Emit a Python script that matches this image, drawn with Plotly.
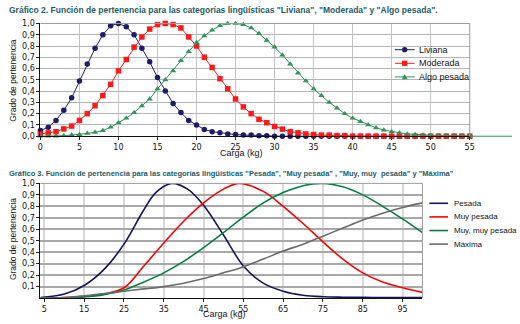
import plotly.graph_objects as go

# ---- Gráfico 2: membership functions sampled at integer loads (kg) ----
carga_g2 = list(range(0, 56))
liviana = [0.05, 0.08, 0.14, 0.23, 0.34, 0.49, 0.64, 0.78, 0.90, 0.98,
           1.00, 0.97, 0.90, 0.78, 0.66, 0.52, 0.40, 0.29, 0.21, 0.14,
           0.10, 0.06, 0.04, 0.03, 0.02, 0.015, 0.01, 0.01, 0.005, 0.005,
           0.0, 0.0, 0.0, 0.0, 0.0, 0.0, 0.0, 0.0, 0.0, 0.0,
           0.0, 0.0, 0.0, 0.0, 0.0, 0.0, 0.0, 0.0, 0.0, 0.0,
           0.0, 0.0, 0.0, 0.0, 0.0, 0.0]
moderada = [0.02, 0.03, 0.04, 0.065, 0.09, 0.14, 0.20, 0.27, 0.36, 0.46,
            0.58, 0.68, 0.79, 0.88, 0.95, 0.99, 1.00, 0.99, 0.96, 0.88,
            0.80, 0.70, 0.61, 0.51, 0.42, 0.33, 0.26, 0.20, 0.15, 0.12,
            0.086, 0.063, 0.04, 0.03, 0.02, 0.015, 0.01, 0.01, 0.005, 0.005,
            0.0, 0.0, 0.0, 0.0, 0.0, 0.0, 0.0, 0.0, 0.0, 0.0,
            0.0, 0.0, 0.0, 0.0, 0.0, 0.0]
algo_pesada = [0.0, 0.0, 0.0, 0.005, 0.01, 0.015, 0.025, 0.035, 0.05, 0.08,
               0.12, 0.16, 0.21, 0.27, 0.33, 0.42, 0.50, 0.58, 0.67, 0.75,
               0.83, 0.89, 0.94, 0.98, 1.00, 1.00, 0.99, 0.96, 0.91, 0.85,
               0.79, 0.72, 0.64, 0.56, 0.49, 0.42, 0.36, 0.30, 0.25, 0.20,
               0.16, 0.13, 0.10, 0.075, 0.055, 0.04, 0.03, 0.02, 0.015, 0.01,
               0.008, 0.005, 0.004, 0.003, 0.002, 0.001]
ticks_g2_x = [0, 5, 10, 15, 20, 25, 30, 35, 40, 45, 50, 55]
ticks_g2_y = [0.0, 0.1, 0.2, 0.3, 0.4, 0.5, 0.6, 0.7, 0.8, 0.9, 1.0]

# ---- Gráfico 3: smooth membership curves ----
carga_pesada = [4, 10, 15, 20, 25, 30, 33, 37, 41, 45, 50, 55, 60, 65, 70,
                75, 80, 85, 90, 95, 100]
pesada = [0.005, 0.035, 0.11, 0.25, 0.47, 0.77, 0.92, 1.00, 0.95, 0.81,
          0.55, 0.28, 0.13, 0.06, 0.025, 0.012, 0.008, 0.006, 0.005, 0.005, 0.005]
carga_g3 = [4, 10, 15, 20, 25, 30, 35, 40, 45, 50, 54, 60, 65, 70, 75,
            80, 85, 90, 95, 100]
muy_pesada = [0.0, 0.005, 0.015, 0.035, 0.09, 0.28, 0.48, 0.67, 0.83, 0.95,
              1.00, 0.93, 0.80, 0.65, 0.49, 0.34, 0.22, 0.14, 0.09, 0.05]
muy_muy_pesada = [0.0, 0.002, 0.01, 0.03, 0.07, 0.14, 0.22, 0.32, 0.44, 0.57,
                  0.68, 0.83, 0.92, 0.98, 1.00, 0.97, 0.90, 0.80, 0.69, 0.57]
maxima = [0.0, 0.005, 0.02, 0.04, 0.06, 0.08, 0.10, 0.13, 0.17, 0.22,
          0.26, 0.34, 0.41, 0.47, 0.54, 0.61, 0.68, 0.74, 0.79, 0.83]
ticks_g3_x = [5, 15, 25, 35, 45, 55, 65, 75, 85, 95]
ticks_g3_y = [0.1, 0.2, 0.3, 0.4, 0.5, 0.6, 0.7, 0.8, 0.9, 1.0]

W, H = 520, 324
TICK_FONT = dict(family="DejaVu Sans, Verdana, sans-serif", size=8, color="#111111")
LABEL_FONT = dict(family="Liberation Sans, Arial, sans-serif", size=9, color="#111111")
TITLE_COLOR = "#1b5c66"


def px(x):
    return x / W


def py(y):
    return 1 - y / H


fig = go.Figure()

NAVY, RED, GREEN = "#1c1c6b", "#ff1a1a", "#2e9457"
g2_series = [
    ("Liviana", liviana, NAVY, "circle"),
    ("Moderada", moderada, RED, "square"),
    ("Algo pesada", algo_pesada, GREEN, "triangle-up"),
]
for name, ys, color, symbol in g2_series:
    fig.add_trace(go.Scatter(
        x=carga_g2, y=ys, name=name, mode="lines+markers",
        line=dict(color=color, width=1),
        marker=dict(color=color, symbol=symbol, size=5.5, line=dict(width=0)),
        cliponaxis=False, xaxis="x", yaxis="y", showlegend=False,
    ))

g3_series = [
    ("Pesada", carga_pesada, pesada, "#14145a"),
    ("Muy pesada", carga_g3, muy_pesada, "#ff0000"),
    ("Muy, muy pesada", carga_g3, muy_muy_pesada, "#008040"),
    ("Máxima", carga_g3, maxima, "#6a6a6a"),
]
for name, xs, ys, color in g3_series:
    fig.add_trace(go.Scatter(
        x=xs, y=ys, name=name, mode="lines",
        line=dict(color=color, width=1.6, shape="spline", smoothing=1.0),
        xaxis="x2", yaxis="y2", showlegend=False,
    ))

fig.update_layout(
    width=W, height=H,
    margin=dict(l=0, r=0, t=0, b=0),
    paper_bgcolor="white", plot_bgcolor="white",
    separators=",.",
    showlegend=False,
    xaxis=dict(
        domain=[px(38), px(474)], range=[0, 55],
        tickvals=ticks_g2_x, ticks="outside", ticklen=3, tickcolor="#222",
        tickfont=TICK_FONT, showgrid=True, gridcolor="#c4c4c4", gridwidth=1,
        showline=True, linecolor="#111", linewidth=1,
        zeroline=False, fixedrange=True,
    ),
    yaxis=dict(
        domain=[py(136), py(20)], range=[0, 1],
        tickvals=ticks_g2_y, tickformat=".1f", ticks="outside", ticklen=3,
        tickcolor="#222", tickfont=TICK_FONT, showgrid=True,
        gridcolor="#b4b4b4", gridwidth=1, showline=True, linecolor="#111",
        linewidth=1, zeroline=False, fixedrange=True,
    ),
    xaxis2=dict(
        domain=[px(38), px(426)], range=[4, 100], anchor="y2",
        tickvals=ticks_g3_x, ticks="outside", ticklen=3, tickcolor="#222",
        tickfont=TICK_FONT, showgrid=True, gridcolor="#d9d9d9", gridwidth=2,
        showline=True, linecolor="#111", linewidth=1,
        zeroline=False, fixedrange=True,
    ),
    yaxis2=dict(
        domain=[py(302.5), py(184.5)], range=[0, 1], anchor="x2",
        tickvals=ticks_g3_y, tickformat=".1f", ticks="outside", ticklen=3,
        tickcolor="#222", tickfont=TICK_FONT, showgrid=True,
        gridcolor="#a8a8a8", gridwidth=1.5, showline=True, linecolor="#111",
        linewidth=1, zeroline=False, fixedrange=True,
    ),
)

shapes = []
# plot-area borders (top and right) in light grey
for (xl, xr), (yt, yb) in [((38, 474), (20, 136)), ((38, 426), (184.5, 302.5))]:
    shapes.append(dict(type="line", x0=px(xl), x1=px(xr), y0=py(yt), y1=py(yt),
                       line=dict(color="#9a9a9a", width=1)))
    shapes.append(dict(type="line", x0=px(xr), x1=px(xr), y0=py(yb), y1=py(yt),
                       line=dict(color="#9a9a9a", width=1)))

# green axis extension past the last category of Gráfico 2
shapes.append(dict(type="line", x0=px(474), x1=px(517), y0=py(136), y1=py(136),
                   line=dict(color=GREEN, width=1)))

# legend panel of Gráfico 2 (white box over the gridlines)
shapes.append(dict(type="rect", x0=px(392), x1=px(469), y0=py(84), y1=py(37),
                   fillcolor="white", line=dict(width=0), layer="between"))

annotations = []
# legend entries of Gráfico 2: line sample with its marker
for i, (name, _, color, symbol) in enumerate(g2_series):
    yc = 47 + i * 14
    shapes.append(dict(type="line", x0=px(398), x1=px(418), y0=py(yc), y1=py(yc),
                       line=dict(color=color, width=1)))
    r = 2.7
    if symbol == "circle":
        shapes.append(dict(type="circle", x0=px(408 - r), x1=px(408 + r),
                           y0=py(yc + r), y1=py(yc - r), fillcolor=color,
                           line=dict(width=0)))
    elif symbol == "square":
        shapes.append(dict(type="rect", x0=px(408 - r), x1=px(408 + r),
                           y0=py(yc + r), y1=py(yc - r), fillcolor=color,
                           line=dict(width=0)))
    else:
        path = "M {:.5f} {:.5f} L {:.5f} {:.5f} L {:.5f} {:.5f} Z".format(
            px(408 - 3), py(yc + 2.5), px(408 + 3), py(yc + 2.5), px(408), py(yc - 3))
        shapes.append(dict(type="path", path=path, fillcolor=color,
                           line=dict(width=0)))
    annotations.append(dict(text=name, x=px(420), y=py(yc), xanchor="left",
                            yanchor="middle", font=dict(LABEL_FONT, size=9)))

# legend entries of Gráfico 3: line samples
for i, (name, _, _, color) in enumerate(g3_series):
    yc = 205 + i * 14
    shapes.append(dict(type="line", x0=px(433), x1=px(452), y0=py(yc), y1=py(yc),
                       line=dict(color=color, width=1.6)))
    annotations.append(dict(text=name, x=px(456), y=py(yc), xanchor="left",
                            yanchor="middle", font=dict(LABEL_FONT, size=8)))

for s in shapes:
    s.setdefault("xref", "paper")
    s.setdefault("yref", "paper")

annotations += [
    dict(text="Gráfico 2. Función de pertenencia para las categorías lingüísticas "
              "\"Liviana\", \"Moderada\" y \"Algo pesada\".",
         x=px(4), y=py(6), xanchor="left", yanchor="middle",
         font=dict(family="Liberation Sans, Arial, sans-serif", size=8.5,
                   color=TITLE_COLOR, weight="bold")),
    dict(text="Gráfico 3. Función de pertenencia para las categorías lingüísticas "
              "\"Pesada\", \"Muy pesada\" , \"Muy, muy  pesada\" y \"Máxima\"",
         x=px(4), y=py(174), xanchor="left", yanchor="middle",
         font=dict(family="Liberation Sans, Arial, sans-serif", size=7.5,
                   color=TITLE_COLOR, weight="bold")),
    dict(text="Grado de pertenencia", textangle=-90, x=px(10), y=py(79),
         xanchor="center", yanchor="middle", font=dict(LABEL_FONT, size=8.5)),
    dict(text="Grado de pertenencia", textangle=-90, x=px(10), y=py(242),
         xanchor="center", yanchor="middle", font=dict(LABEL_FONT, size=8.5)),
    dict(text="Carga (kg)", x=px(242), y=py(153), xanchor="center",
         yanchor="middle", font=LABEL_FONT),
    dict(text="Carga (kg)", x=px(225), y=py(319), xanchor="center",
         yanchor="middle", font=LABEL_FONT),
]
for a in annotations:
    a.update(xref="paper", yref="paper", showarrow=False)

fig.update_layout(shapes=shapes, annotations=annotations)

fig.write_html("out.html")
